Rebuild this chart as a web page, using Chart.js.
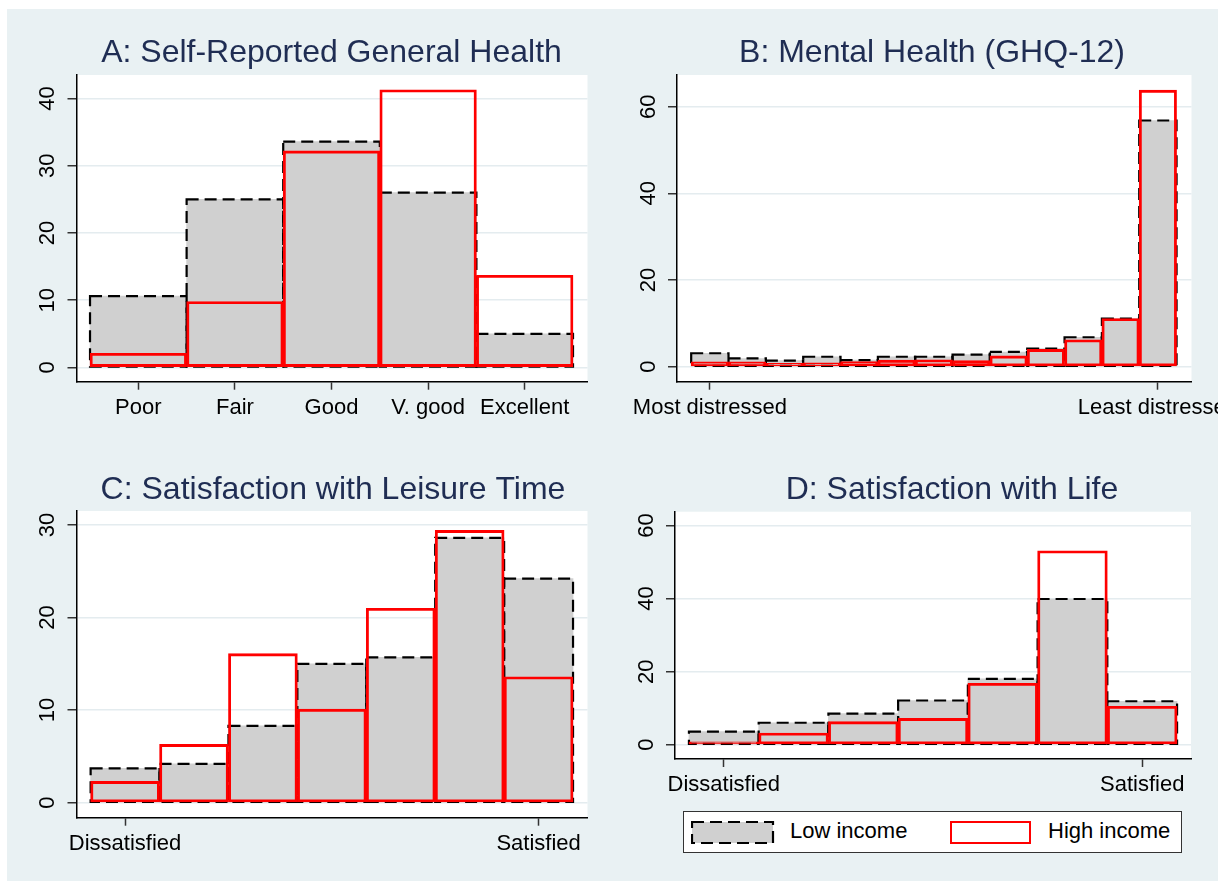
<!DOCTYPE html>
<html>
<head>
<meta charset="utf-8">
<script src="https://cdn.jsdelivr.net/npm/chart.js@4.4.1/dist/chart.umd.min.js"></script>
<style>
  html, body { margin: 0; padding: 0; }
  body { width: 1218px; height: 881px; overflow: hidden; position: relative; background: #fff;
         font-family: "Liberation Sans", Arial, sans-serif; }
  #bg { position: absolute; left: 7px; top: 9px; width: 1211px; height: 872px; background: #e9f1f3; }
  canvas { position: absolute; }
  #legend { position: absolute; left: 683px; top: 811px; width: 499px; height: 42px; box-sizing: border-box;
            border: 1.5px solid #333; background: #fff; }
  #legend svg { position: absolute; top: 9px; }
  #legend span { position: absolute; top: 6px; font-size: 22px; line-height: 26px; color: #000; white-space: nowrap; }
</style>
</head>
<body>
<div id="bg"></div>
<canvas id="chartA" width="663" height="440" style="left:0px;top:0px"></canvas>
<canvas id="chartB" width="664" height="440" style="left:600px;top:0px"></canvas>
<canvas id="chartC" width="666" height="441" style="left:0px;top:440px"></canvas>
<canvas id="chartD" width="704" height="441" style="left:600px;top:440px"></canvas>
<div id="legend">
  <svg width="84" height="24" style="left:7px"><rect x="1" y="1" width="81" height="21" fill="#d0d0d0" stroke="#000" stroke-width="2.2" stroke-dasharray="12 6"/></svg>
  <span style="left:106px">Low income</span>
  <svg width="84" height="24" style="left:266px"><rect x="1" y="1" width="79" height="21" fill="#fff" stroke="#ff0000" stroke-width="2"/></svg>
  <span style="left:364px">High income</span>
</div>
<script>
// Datos de cada panel (porcentajes)
const healthCats = ["Poor", "Fair", "Good", "V. good", "Excellent"];
const healthLow = [10.6, 25.0, 33.6, 26.0, 5.0];
const healthHigh = [2.1, 9.8, 32.2, 41.3, 13.7];

const ghqTicks = [1, 13];
const ghqLabels = ["Most distressed", "Least distressed"];
const ghqLow = [3.1, 1.9, 1.4, 2.3, 1.5, 2.3, 2.3, 2.8, 3.4, 4.2, 6.8, 11.1, 56.8];
const ghqHigh = [1.1, 1.1, 0.8, 0.9, 1.2, 1.5, 1.6, 1.4, 2.5, 4.0, 6.2, 11.1, 63.8];

const satTicks = [1, 7];
const satLabels = ["Dissatisfied", "Satisfied"];
const leisureLow = [3.7, 4.2, 8.3, 15.0, 15.7, 28.6, 24.2];
const leisureHigh = [2.3, 6.3, 16.1, 10.1, 21.0, 29.4, 13.6];
const lifeLow = [3.6, 6.0, 8.5, 12.1, 18.0, 39.9, 11.9];
const lifeHigh = [0.8, 3.2, 6.3, 7.2, 16.8, 53.1, 10.5];

const FONT = "'Liberation Sans', Arial, sans-serif";

// Fondo blanco del área de trazado
const plotBg = {
  id: "plotBg",
  beforeDraw(chart) {
    const a = chart.chartArea;
    chart.ctx.save();
    chart.ctx.fillStyle = "#fff";
    chart.ctx.fillRect(a.left, a.top, a.right - a.left, a.bottom - a.top);
    chart.ctx.restore();
  }
};

// Contorno discontinuo para las barras de bajos ingresos
const dashedOutline = {
  id: "dashedOutline",
  afterDatasetDraw(chart, args) {
    const ds = chart.data.datasets[args.index];
    if (!ds.dashed) return;
    const ctx = chart.ctx;
    ctx.save();
    ctx.strokeStyle = "#000";
    ctx.lineWidth = 2.2;
    ctx.setLineDash([12, 6]);
    args.meta.data.forEach(bar => {
      const p = bar.getProps(["x", "y", "base", "width"], true);
      ctx.strokeRect(p.x - p.width / 2, p.y, p.width, p.base - p.y);
    });
    ctx.restore();
  }
};

function makePanel(id, c) {
  return new Chart(document.getElementById(id), {
    type: "bar",
    data: {
      datasets: [
        {
          label: "Low income",
          data: c.low.map((v, i) => ({ x: i + 1, y: v })),
          backgroundColor: "#d0d0d0",
          borderWidth: 0,
          dashed: true,
          order: 2
        },
        {
          label: "High income",
          data: c.high.map((v, i) => ({ x: i + 1, y: v })),
          backgroundColor: "rgba(0,0,0,0)",
          borderColor: "#ff0000",
          borderWidth: 2.2,
          borderSkipped: false,
          order: 1
        }
      ]
    },
    options: {
      responsive: false,
      animation: false,
      devicePixelRatio: 1,
      layout: { padding: 0 },
      datasets: { bar: { grouped: false, barPercentage: 1, categoryPercentage: 1 } },
      plugins: {
        legend: { display: false },
        tooltip: { enabled: false },
        title: {
          display: true,
          text: c.title,
          color: "#1f2d53",
          font: { size: 32, family: FONT, weight: "normal" },
          padding: { top: c.titleTop, bottom: c.titleBottom }
        }
      },
      scales: {
        x: {
          type: "linear",
          offset: false,
          min: c.xMin,
          max: c.xMax,
          grid: { drawOnChartArea: false, offset: false, tickLength: 8, tickColor: "#333", tickWidth: 1.5 },
          border: { display: true, color: "#000", width: 1.5 },
          ticks: {
            autoSkip: false, minRotation: 0, maxRotation: 0, padding: 5,
            color: "#000", font: { size: 22, family: FONT },
            callback: v => c.xLabels[c.xTicks.indexOf(v)]
          },
          afterBuildTicks: s => { s.ticks = c.xTicks.map(v => ({ value: v })); },
          afterFit: s => { s.height = c.xHeight; }
        },
        y: {
          min: c.yMin,
          max: c.yMax,
          grid: { color: "#e4ecef", lineWidth: 1.5, tickLength: 9, tickColor: "#333", tickWidth: 1.5 },
          border: { display: true, color: "#000", width: 1.5 },
          ticks: {
            minRotation: 90, maxRotation: 90, crossAlign: "center", padding: 7,
            color: "#000", font: { size: 22, family: FONT }
          },
          afterBuildTicks: s => { s.ticks = c.yTicks.map(v => ({ value: v })); },
          afterFit: s => { s.width = c.yWidth; }
        },
        yR: {
          position: "right",
          grid: { display: false },
          border: { display: false },
          ticks: { display: false },
          afterFit: s => { s.width = c.rightGap; }
        }
      }
    },
    plugins: [plotBg, dashedOutline]
  });
}

makePanel("chartA", {
  title: "A: Self-Reported General Health",
  low: healthLow, high: healthHigh,
  xTicks: [1, 2, 3, 4, 5], xLabels: healthCats, xMin: 0.36, xMax: 5.65,
  yTicks: [0, 10, 20, 30, 40], yMin: -2.13, yMax: 43.5,
  titleTop: 34, titleBottom: 2.6, xHeight: 58.3, yWidth: 76.5, rightGap: 75.5
});

makePanel("chartB", {
  title: "B: Mental Health (GHQ-12)",
  low: ghqLow, high: ghqHigh,
  xTicks: ghqTicks, xLabels: ghqLabels, xMin: 0.12, xMax: 13.9,
  yTicks: [0, 20, 40, 60], yMin: -3.46, yMax: 67.3,
  titleTop: 34, titleBottom: 2.6, xHeight: 58.3, yWidth: 77, rightGap: 72.5
});

makePanel("chartC", {
  title: "C: Satisfaction with Leisure Time",
  low: leisureLow, high: leisureHigh,
  xTicks: satTicks, xLabels: satLabels, xMin: 0.295, xMax: 7.71,
  yTicks: [0, 10, 20, 30], yMin: -1.62, yMax: 31.5,
  titleTop: 31, titleBottom: 1.6, xHeight: 63.3, yWidth: 76.5, rightGap: 78.5
});

makePanel("chartD", {
  title: "D: Satisfaction with Life",
  low: lifeLow, high: lifeHigh,
  xTicks: satTicks, xLabels: satLabels, xMin: 0.30, xMax: 7.70,
  yTicks: [0, 20, 40, 60], yMin: -3.92, yMax: 63.8,
  titleTop: 31, titleBottom: 2.3, xHeight: 122, yWidth: 75, rightGap: 113
});
</script>
</body>
</html>
